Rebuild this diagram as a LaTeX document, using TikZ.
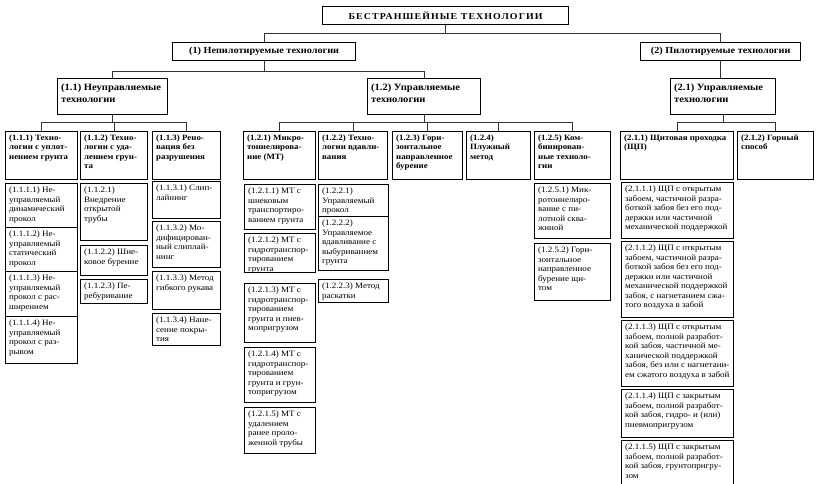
\documentclass[tikz,border=0pt]{standalone}
\usepackage{fontspec}
\setmainfont{Liberation Serif}[FakeStretch=1.1]
\newfontfamily\titlefont{Liberation Serif}[LetterSpace=12,FakeStretch=1.1]
\tikzset{
  frame/.style={draw=black, line width=1.25pt, anchor=north west, inner xsep=3.5pt, inner ysep=2.5pt},
  lvfour/.style={frame, font=\fontsize{8.2}{9.5}\selectfont},
  lvthree/.style={frame, font=\bfseries\fontsize{8.1}{9.3}\selectfont},
  lvtwo/.style={frame, inner ysep=3.5pt, font=\bfseries\fontsize{9.6}{11.7}\selectfont},
  lvone/.style={draw=black, line width=1.25pt, anchor=north west, inner sep=0pt, font=\bfseries\fontsize{9.3}{10}\selectfont},
  rootbox/.style={lvone, font=\titlefont\bfseries\fontsize{9}{10}\selectfont},
  link/.style={draw=black!80, line width=0.7pt},
}
% \bx[style]{name}{x1}{y1}{x2}{y2}{lines}
\newcommand\bx[7][lvfour]{%
  \node[#1] (#2) at (#3pt,-#4pt)
  {\parbox[c][\dimexpr#6pt-#4pt-5pt\relax][t]{\dimexpr#5pt-#3pt-7pt\relax}{\begin{tabular}[t]{@{}l@{}}#7\end{tabular}}};}
\begin{document}
\begin{tikzpicture}
\useasboundingbox[fill=white] (0,0) rectangle (821pt,-484pt);

% level 0 and 1
\node[rootbox, minimum width=246pt, minimum height=18pt] (root) at (322pt,-6pt) {БЕСТРАНШЕЙНЫЕ ТЕХНОЛОГИИ};
\node[lvone, minimum width=183pt, minimum height=18pt] (n1) at (172pt,-42pt) {(1) Непилотируемые технологии};
\node[lvone, minimum width=160pt, minimum height=18pt] (n2) at (640pt,-42pt) {(2) Пилотируемые технологии};

% level 2
\bx[lvtwo]{n11}{57}{78}{167}{112}{(1.1) Неуправляемые\\технологии}
\bx[lvtwo]{n12}{367}{78}{480}{112}{(1.2) Управляемые\\технологии}
\bx[lvtwo]{n21}{670}{78}{775}{112}{(2.1) Управляемые\\технологии}

% level 3
\bx[lvthree]{n111}{5}{131}{77}{179}{(1.1.1) Техно-\\логии с уплот-\\нением грунта}
\bx[lvthree]{n112}{80}{131}{147}{179}{(1.1.2) Техно-\\логии с уда-\\лением грун-\\та}
\bx[lvthree]{n113}{152}{131}{220}{179}{(1.1.3) Рено-\\вация без\\разрушения}
\bx[lvthree]{n121}{243}{131}{315}{179}{(1.2.1) Микро-\\тоннелирова-\\ние (МТ)}
\bx[lvthree]{n122}{318}{131}{387}{179}{(1.2.2) Техно-\\логии вдавли-\\вания}
\bx[lvthree]{n123}{392}{131}{462}{179}{(1.2.3) Гори-\\зонтальное\\направленное\\бурение}
\bx[lvthree]{n124}{466}{131}{530}{179}{(1.2.4)\\Плужный\\метод}
\bx[lvthree]{n125}{534}{131}{610}{179}{(1.2.5) Ком-\\бинирован-\\ные техноло-\\гии}
\bx[lvthree]{n211}{620}{131}{733}{179}{(2.1.1) Щитовая проходка\\(ЩП)}
\bx[lvthree]{n212}{737}{131}{813}{179}{(2.1.2) Горный\\способ}

% level 4, column 1.1.1
\bx{n1111}{5}{183}{77}{227}{(1.1.1.1) Не-\\управляемый\\динамический\\прокол}
\bx{n1112}{5}{227}{77}{271}{(1.1.1.2) Не-\\управляемый\\статический\\прокол}
\bx{n1113}{5}{271}{77}{316}{(1.1.1.3) Не-\\управляемый\\прокол с рас-\\ширением}
\bx{n1114}{5}{316}{77}{363}{(1.1.1.4) Не-\\управляемый\\прокол с раз-\\рывом}
% column 1.1.2
\bx{n1121}{80}{183}{147}{240}{(1.1.2.1)\\Внедрение\\открытой\\трубы}
\bx{n1122}{80}{245}{147}{275}{(1.1.2.2) Шне-\\ковое бурение}
\bx{n1123}{80}{279}{147}{303}{(1.1.2.3) Пе-\\ребуривание}
% column 1.1.3
\bx{n1131}{152}{181}{220}{218}{(1.1.3.1) Слип-\\лайнинг}
\bx{n1132}{152}{221}{220}{267}{(1.1.3.2) Мо-\\дифицирован-\\ный слиплай-\\нинг}
\bx{n1133}{152}{271}{220}{309}{(1.1.3.3) Метод\\гибкого рукава}
\bx{n1134}{152}{313}{220}{345}{(1.1.3.4) Нане-\\сение покры-\\тия}
% column 1.2.1
\bx{n1211}{244}{184}{315}{229}{(1.2.1.1) МТ с\\шнековым\\транспортиро-\\ванием грунта}
\bx{n1212}{244}{233}{315}{272}{(1.2.1.2) МТ с\\гидротранспор-\\тированием\\грунта}
\bx{n1213}{244}{283}{315}{342}{(1.2.1.3) МТ с\\гидротранспор-\\тированием\\грунта и пнев-\\мопригрузом}
\bx{n1214}{244}{347}{315}{402}{(1.2.1.4) МТ с\\гидротранспор-\\тированием\\грунта и грун-\\топригрузом}
\bx{n1215}{244}{407}{315}{453}{(1.2.1.5) МТ с\\удалением\\ранее проло-\\женной трубы}
% column 1.2.2
\bx{n1221}{318}{184}{388}{216}{(1.2.2.1)\\Управляемый\\прокол}
\bx{n1222}{318}{216}{388}{270}{(1.2.2.2)\\Управляемое\\вдавливание с\\выбуриванием\\грунта}
\bx{n1223}{318}{279}{388}{302}{(1.2.2.3) Метод\\раскатки}
% column 1.2.5
\bx{n1251}{534}{183}{610}{238}{(1.2.5.1) Мик-\\ротоннелиро-\\вание с пи-\\лотной сква-\\жиной}
\bx{n1252}{534}{243}{610}{300}{(1.2.5.2) Гори-\\зонтальное\\направленное\\бурение щи-\\том}
% column 2.1.1
\bx{n2111}{621}{182}{733}{238}{(2.1.1.1) ЩП с открытым\\забоем, частичной разра-\\боткой забоя без его под-\\держки или частичной\\механической поддержкой}
\bx{n2112}{621}{241}{733}{317}{(2.1.1.2) ЩП с открытым\\забоем, частичной разра-\\боткой забоя без его под-\\держки или  частичной\\механической поддержкой\\забоя, с нагнетанием сжа-\\того воздуха в забой}
\bx{n2113}{621}{320}{733}{386}{(2.1.1.3) ЩП с открытым\\забоем,  полной разработ-\\кой забоя,  частичной ме-\\ханической поддержкой\\забоя, без или с нагнетани-\\ем сжатого воздуха в забой}
\bx{n2114}{621}{389}{733}{437}{(2.1.1.4) ЩП с закрытым\\забоем,  полной разработ-\\кой забоя, гидро- и (или)\\пневмопригрузом}
\bx{n2115}{621}{440}{733}{492}{(2.1.1.5) ЩП с закрытым\\забоем,  полной разработ-\\кой забоя, грунтопригру-\\зом}

% connectors
\draw[link] (n1.north) -- ++(0,9pt) -| (root.south);
\draw[link] (n2.north) -- ++(0,9pt) -| (root.south);
\draw[link] (n11.north) -- ++(0,7pt) -| (n1.south);
\draw[link] (n12.north) -- ++(0,7pt) -| (n1.south);
\draw[link] (n2.south) -- (n2.south |- n21.north);
\foreach \c in {n111,n112,n113}{\draw[link] (\c.north) -- ++(0,9pt) -| (n11.south);}
\foreach \c in {n121,n122,n123,n124,n125}{\draw[link] (\c.north) -- ++(0,9pt) -| (n12.south);}
\foreach \c in {n211,n212}{\draw[link] (\c.north) -- ++(0,9pt) -| (n21.south);}
\end{tikzpicture}
\end{document}
